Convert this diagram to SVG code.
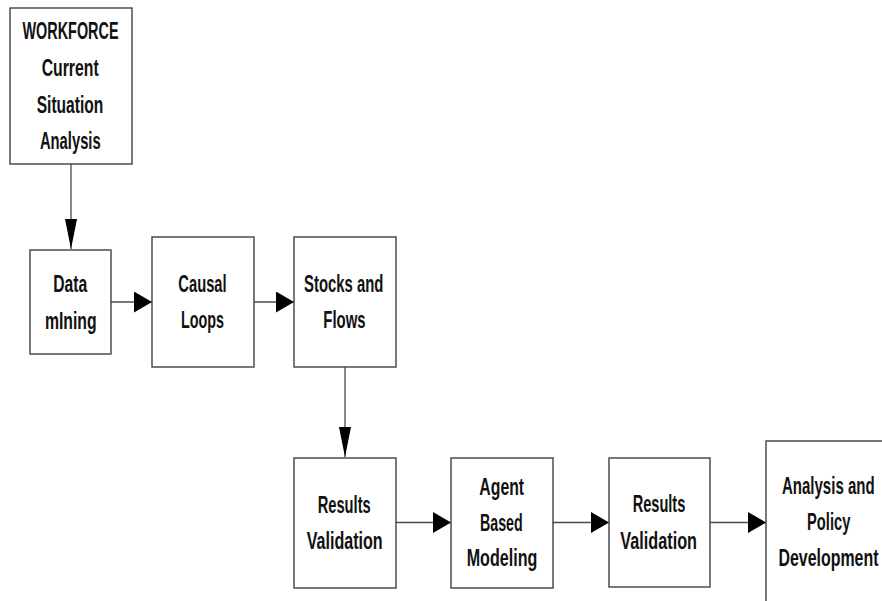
<svg xmlns="http://www.w3.org/2000/svg" width="882" height="601" viewBox="0 0 882 601">
<style>
.box{fill:#fff;stroke:#404040;stroke-width:1.4}
.lbl{font-family:"Liberation Sans",Arial,sans-serif;font-weight:bold;font-size:24px;fill:#111;text-anchor:middle}
.con{stroke:#4a4a4a;stroke-width:1.3;fill:none}
</style>
<defs>
<marker id="ah" markerUnits="userSpaceOnUse" markerWidth="18" markerHeight="21" refX="18" refY="10.5" orient="auto" viewBox="0 0 18 21"><path d="M0,0 L18,10.5 L0,21 z" fill="#000"/></marker>
<marker id="av" markerUnits="userSpaceOnUse" markerWidth="30" markerHeight="12" refX="30" refY="6" orient="auto" viewBox="0 0 30 12"><path d="M0,0 L30,6 L0,12 z" fill="#000"/></marker>
</defs>
<rect width="882" height="601" fill="#fff"/>
<g id="connectors">
<line class="con" x1="71" y1="164" x2="71" y2="249" marker-end="url(#av)"/>
<line class="con" x1="111" y1="302" x2="152" y2="302" marker-end="url(#ah)"/>
<line class="con" x1="254" y1="302" x2="294" y2="302" marker-end="url(#ah)"/>
<line class="con" x1="345" y1="367" x2="345" y2="457" marker-end="url(#av)"/>
<line class="con" x1="396" y1="522.5" x2="451" y2="522.5" marker-end="url(#ah)"/>
<line class="con" x1="553" y1="522.5" x2="609" y2="522.5" marker-end="url(#ah)"/>
<line class="con" x1="710" y1="522.5" x2="766" y2="522.5" marker-end="url(#ah)"/>
</g>
<g id="workforce">
<rect class="box" x="10" y="8" width="122" height="156"/>
<text class="lbl" x="70.5" y="39" textLength="96" lengthAdjust="spacingAndGlyphs">WORKFORCE</text>
<text class="lbl" x="70.2" y="76" textLength="57" lengthAdjust="spacingAndGlyphs">Current</text>
<text class="lbl" x="70" y="112.7" textLength="66.7" lengthAdjust="spacingAndGlyphs">Situation</text>
<text class="lbl" x="70.3" y="149" textLength="60.7" lengthAdjust="spacingAndGlyphs">Analysis</text>
</g>
<g id="data-mining">
<rect class="box" x="30" y="250" width="81" height="104"/>
<text class="lbl" x="70.3" y="292" textLength="34" lengthAdjust="spacingAndGlyphs">Data</text>
<text class="lbl" x="70.8" y="328.5" textLength="51.7" lengthAdjust="spacingAndGlyphs">mIning</text>
</g>
<g id="causal-loops">
<rect class="box" x="152" y="237" width="102" height="130"/>
<text class="lbl" x="202.5" y="292" textLength="48.3" lengthAdjust="spacingAndGlyphs">Causal</text>
<text class="lbl" x="202.5" y="328" textLength="43" lengthAdjust="spacingAndGlyphs">Loops</text>
</g>
<g id="stocks-flows">
<rect class="box" x="294" y="237" width="102" height="130"/>
<text class="lbl" x="343.7" y="292" textLength="79.3" lengthAdjust="spacingAndGlyphs">Stocks and</text>
<text class="lbl" x="344.5" y="328" textLength="42.3" lengthAdjust="spacingAndGlyphs">Flows</text>
</g>
<g id="results-validation-1">
<rect class="box" x="294" y="458" width="102" height="130"/>
<text class="lbl" x="344.2" y="513" textLength="53" lengthAdjust="spacingAndGlyphs">Results</text>
<text class="lbl" x="344.7" y="549" textLength="76" lengthAdjust="spacingAndGlyphs">Validation</text>
</g>
<g id="agent-based-modeling">
<rect class="box" x="451" y="458" width="102" height="130"/>
<text class="lbl" x="501.7" y="495" textLength="44.7" lengthAdjust="spacingAndGlyphs">Agent</text>
<text class="lbl" x="501.3" y="531" textLength="42.7" lengthAdjust="spacingAndGlyphs">Based</text>
<text class="lbl" x="502" y="566" textLength="70.7" lengthAdjust="spacingAndGlyphs">Modeling</text>
</g>
<g id="results-validation-2">
<rect class="box" x="609" y="458" width="101" height="129"/>
<text class="lbl" x="659" y="512" textLength="52.7" lengthAdjust="spacingAndGlyphs">Results</text>
<text class="lbl" x="658.7" y="548.5" textLength="76.7" lengthAdjust="spacingAndGlyphs">Validation</text>
</g>
<g id="analysis-policy">
<rect class="box" x="766" y="441" width="124" height="164"/>
<text class="lbl" x="828.3" y="494" textLength="92.7" lengthAdjust="spacingAndGlyphs">Analysis and</text>
<text class="lbl" x="828.7" y="530" textLength="43.3" lengthAdjust="spacingAndGlyphs">Policy</text>
<text class="lbl" x="828.5" y="566" textLength="100" lengthAdjust="spacingAndGlyphs">Development</text>
</g>
</svg>
